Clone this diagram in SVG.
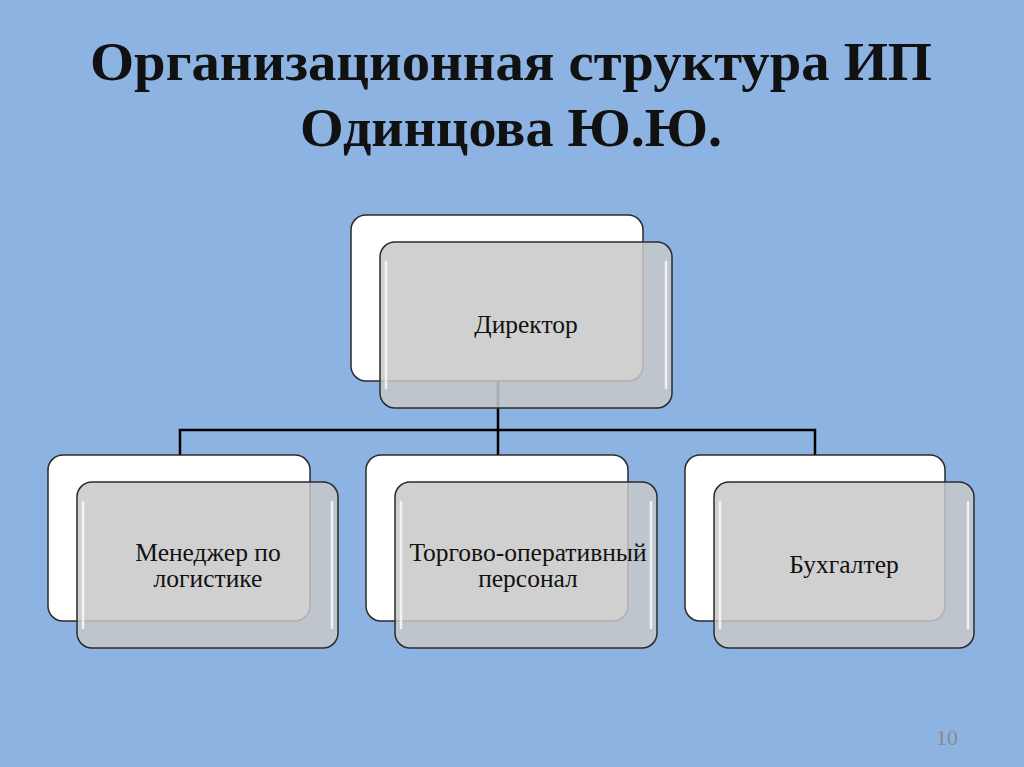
<svg xmlns="http://www.w3.org/2000/svg" width="1024" height="767" viewBox="0 0 1024 767">
<style>
.back{fill:#ffffff;stroke:#2b2b2b;stroke-width:1.5}
.front{fill:#c8c8c8;fill-opacity:0.85;stroke:#2b2b2b;stroke-width:1.5}
.hl{fill:none;stroke:#ffffff;stroke-width:2.5;stroke-opacity:0.75;stroke-linecap:round}
.lbl{font-family:"Liberation Serif",serif;font-size:25.5px;fill:#111;text-anchor:middle}
.title{font-family:"Liberation Serif",serif;font-size:54px;font-weight:bold;fill:#111;text-anchor:middle}
.conn{fill:none;stroke:#000;stroke-width:2.5}
</style>
<rect width="1024" height="767" fill="#8db3e2"/>
<text class="title" x="511" y="80" textLength="842" lengthAdjust="spacingAndGlyphs">Организационная структура ИП</text>
<text class="title" x="511" y="146" textLength="422" lengthAdjust="spacingAndGlyphs">Одинцова Ю.Ю.</text>
<g id="connectors">
<path class="conn" d="M498 381 V430 M180 457 V430 H815 V457 M498 430 V457"/>
</g>
<g id="director">
<rect class="back" x="351" y="215" width="292" height="166" rx="15"/>
<rect class="front" x="380" y="242" width="292" height="166" rx="15"/>
<path class="hl" d="M386 262 V388 M666 262 V388"/>
<text class="lbl" x="526" y="333">Директор</text>
</g>
<g id="manager">
<rect class="back" x="48" y="455" width="262" height="166" rx="15"/>
<rect class="front" x="77" y="482" width="261" height="166" rx="15"/>
<path class="hl" d="M83 502 V628 M332 502 V628"/>
<text class="lbl" x="208" y="561">Менеджер по</text>
<text class="lbl" x="208" y="587">логистике</text>
</g>
<g id="staff">
<rect class="back" x="366" y="455" width="262" height="166" rx="15"/>
<rect class="front" x="395" y="482" width="262" height="166" rx="15"/>
<path class="hl" d="M401 502 V628 M651 502 V628"/>
<text class="lbl" x="528" y="561">Торгово-оперативный</text>
<text class="lbl" x="528" y="587">персонал</text>
</g>
<g id="accountant">
<rect class="back" x="685" y="455" width="260" height="166" rx="15"/>
<rect class="front" x="714" y="482" width="260" height="166" rx="15"/>
<path class="hl" d="M720 502 V628 M968 502 V628"/>
<text class="lbl" x="844" y="573">Бухгалтер</text>
</g>
<text x="947" y="745" font-family="Liberation Serif,serif" font-size="22" fill="#8a8a8a" text-anchor="middle">10</text>
</svg>
